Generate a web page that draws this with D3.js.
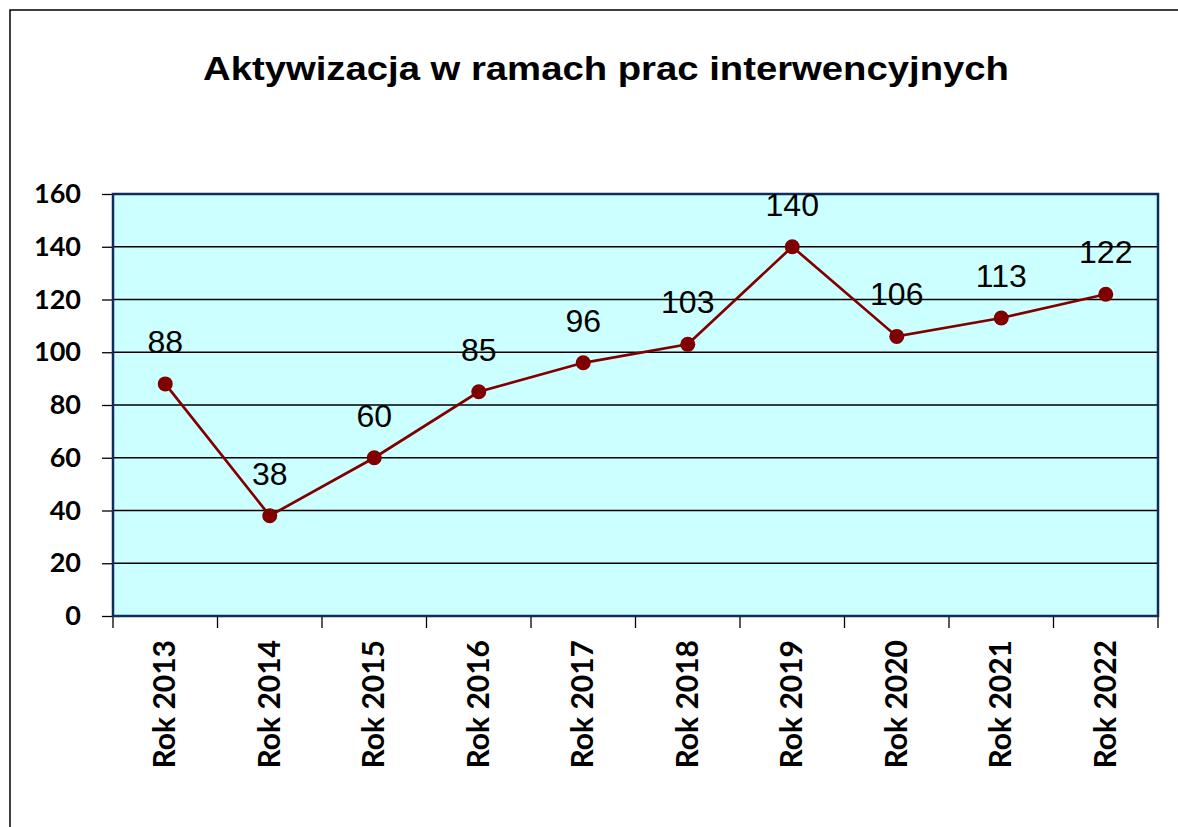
<!DOCTYPE html>
<html><head><meta charset="utf-8">
<script src="https://cdn.jsdelivr.net/npm/d3@7"></script>
<style>html,body{margin:0;padding:0;background:#fff;}svg{display:block;}</style>
</head><body>
<svg id="c" width="1178" height="827"></svg>
<script>
const title = "Aktywizacja  w  ramach  prac  interwencyjnych";
const categories = ["Rok 2013","Rok 2014","Rok 2015","Rok 2016","Rok 2017","Rok 2018","Rok 2019","Rok 2020","Rok 2021","Rok 2022"];
const values = [88, 38, 60, 85, 96, 103, 140, 106, 113, 122];
const yTicks = [0, 20, 40, 60, 80, 100, 120, 140, 160];

const svg = d3.select("#c");
const plot = {left: 113, top: 194, right: 1158, bottom: 616};

// outer frame (top & left)
svg.append("path").attr("d", "M10,827 V10 H1178").attr("fill","none").attr("stroke","#000").attr("stroke-width",1.5);

svg.append("text").attr("x", 606).attr("y", 80).attr("text-anchor","middle")
  .attr("font-family","Liberation Sans, Arial, sans-serif").attr("font-weight","bold")
  .attr("font-size", 34).attr("textLength", 806).attr("lengthAdjust","spacingAndGlyphs")
  .attr("fill","#000").text(title);

const x = d3.scaleBand().domain(categories).range([plot.left, plot.right]).padding(0);
const y = d3.scaleLinear().domain([0,160]).range([plot.bottom, plot.top]);

svg.append("rect").attr("x", plot.left).attr("y", plot.top)
  .attr("width", plot.right-plot.left).attr("height", plot.bottom-plot.top).attr("fill","#CCFFFF");

// gridlines
svg.append("g").selectAll("line").data(yTicks.filter(d=>d>0)).join("line")
  .attr("x1", plot.left).attr("x2", plot.right).attr("y1", d=>y(d)).attr("y2", d=>y(d))
  .attr("stroke","#000").attr("stroke-width",1.3);

// y axis
const yAxis = svg.append("g").attr("transform",`translate(${plot.left},0)`)
  .call(d3.axisLeft(y).tickValues(yTicks).tickSize(11).tickPadding(21).tickFormat(d3.format("d")));
yAxis.select(".domain").remove();
yAxis.selectAll(".tick line").attr("stroke","#000").attr("stroke-width",1.3);
yAxis.selectAll("text").attr("font-family","Lato, sans-serif").attr("font-weight","bold")
  .attr("font-size",27).attr("fill","#000");

// x axis ticks at category boundaries
const xAxisG = svg.append("g").attr("transform",`translate(0,${plot.bottom})`);
const bounds = categories.map(c=>x(c)).concat([plot.right]);
xAxisG.selectAll("line").data(bounds).join("line")
  .attr("x1", d=>d).attr("x2", d=>d).attr("y1",0).attr("y2",12)
  .attr("stroke","#000").attr("stroke-width",1.3);
xAxisG.selectAll("text").data(categories).join("text")
  .attr("transform", d=>`translate(${x(d)+x.bandwidth()/2+10},24) rotate(-90)`)
  .attr("text-anchor","end")
  .attr("font-family","Lato, sans-serif").attr("font-weight","bold").attr("font-size",30)
  .attr("fill","#000").text(d=>d);

// plot border
svg.append("rect").attr("x", plot.left).attr("y", plot.top)
  .attr("width", plot.right-plot.left).attr("height", plot.bottom-plot.top)
  .attr("fill","none").attr("stroke","#0F2D5C").attr("stroke-width",2.5);

// line
const line = d3.line().x((d,i)=>x(categories[i])+x.bandwidth()/2).y(d=>y(d));
svg.append("path").datum(values).attr("d", line).attr("fill","none")
  .attr("stroke","#800000").attr("stroke-width",2.7);
svg.append("g").selectAll("circle").data(values).join("circle")
  .attr("cx",(d,i)=>x(categories[i])+x.bandwidth()/2).attr("cy",d=>y(d)).attr("r",7.5)
  .attr("fill","#800000");

// data labels
svg.append("g").selectAll("text").data(values).join("text")
  .attr("x",(d,i)=>x(categories[i])+x.bandwidth()/2).attr("y",d=>y(d)-31)
  .attr("text-anchor","middle")
  .attr("font-family","Liberation Sans, Arial, sans-serif").attr("font-size",32)
  .attr("fill","#000").text(d=>d);
</script>
</body></html>
